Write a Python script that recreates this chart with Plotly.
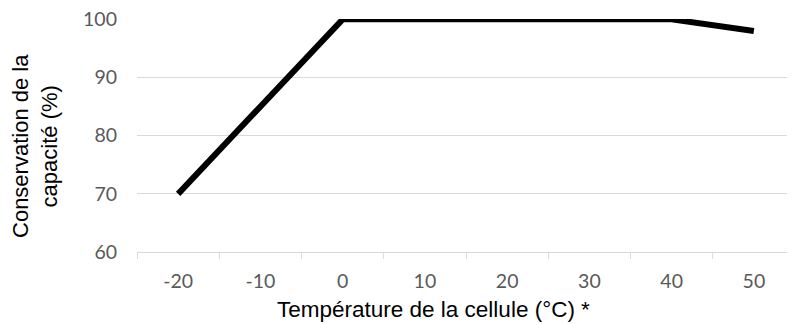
import plotly.graph_objects as go

temperatures = ["-20", "-10", "0", "10", "20", "30", "40", "50"]
capacity = [70, 85, 100, 100, 100, 100, 100, 98]
y_ticks = [60, 70, 80, 90, 100]

x_title = "Température de la cellule (°C) *"
y_title = "Conservation de la<br>capacité (%)"

fig = go.Figure()
fig.add_trace(go.Scatter(
    x=temperatures, y=capacity, mode="lines",
    line=dict(color="#000000", width=6, shape="linear"),
    hoverinfo="skip", showlegend=False,
))

grid = "#d9d9d9"
tick_font = dict(family="Lato, Open Sans, sans-serif", size=19.5, color="#595959")

# page body has an 8px margin, so the figure is drawn 8px right/down
fig.update_layout(
    width=787, height=316,
    margin=dict(l=129, r=0, t=11, b=72, autoexpand=False),
    paper_bgcolor="white", plot_bgcolor="white",
    xaxis=dict(
        type="category", range=[-0.5, 7.5], automargin=False,
        showgrid=False, zeroline=False,
        showline=True, linecolor=grid, linewidth=1,
        ticks="outside", tickson="boundaries", ticklen=6, tickcolor=grid,
        tickfont=tick_font, ticklabelstandoff=12,
    ),
    yaxis=dict(
        range=[60, 100.06], tickvals=y_ticks, automargin=False,
        showgrid=True, gridcolor=grid, gridwidth=1,
        zeroline=False, showline=False, ticks="", tickfont=tick_font,
        ticklabelstandoff=19, ticklabeloverflow="allow",
    ),
    annotations=[
        dict(text=x_title, xref="paper", yref="paper", x=0.4506, y=-0.245,
             xanchor="center", yanchor="middle", showarrow=False,
             font=dict(family="Liberation Sans, Arial", size=22.5, color="#000000")),
        dict(text=y_title, xref="paper", yref="paper", x=-0.155, y=0.455,
             xanchor="center", yanchor="middle", showarrow=False, textangle=-90,
             font=dict(family="Liberation Sans, Arial", size=22, color="#000000")),
    ],
)

fig.write_html("out.html")
